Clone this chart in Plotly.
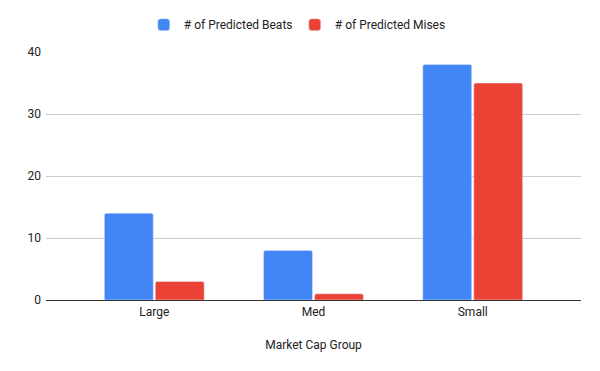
import plotly.graph_objects as go

categories = ["Large", "Med", "Small"]
beats = [14, 8, 38]
mises = [3, 1, 35]
series_names = ["# of Predicted Beats", "# of Predicted Mises"]
y_ticks = [0, 10, 20, 30, 40]

fig = go.Figure()
fig.add_trace(go.Bar(x=categories, y=beats, name=series_names[0],
                     marker=dict(color="#4285F4", cornerradius=2)))
fig.add_trace(go.Bar(x=categories, y=mises, name=series_names[1],
                     marker=dict(color="#EA4335", cornerradius=2)))

fig.update_layout(
    width=600, height=371,
    margin=dict(l=38, r=27, t=44, b=79, autoexpand=False),
    paper_bgcolor="white", plot_bgcolor="white",
    font=dict(family="Roboto", size=12, color="#222222"),
    barmode="group", bargap=0.36, bargroupgap=0.04,
    legend=dict(orientation="h", x=0.465, xanchor="center", y=1.11, yanchor="middle",
                entrywidth=106, entrywidthmode="pixels",
                font=dict(size=12, color="#222222")),
    showlegend=True,
    xaxis=dict(range=[-0.68, 2.68], showgrid=False, ticks="", showline=False,
               zeroline=False, automargin=False, ticklabelstandoff=3,
               title=dict(text="Market Cap Group", font=dict(size=12, color="#222222"), standoff=22)),
    yaxis=dict(range=[0, 40], tickvals=y_ticks, showgrid=True, gridcolor="#CCCCCC",
               gridwidth=1, zeroline=True, zerolinecolor="#333333", zerolinewidth=1,
               ticks="", showline=False, automargin=False, ticklabelstandoff=4),
)
fig.write_html("out.html")
